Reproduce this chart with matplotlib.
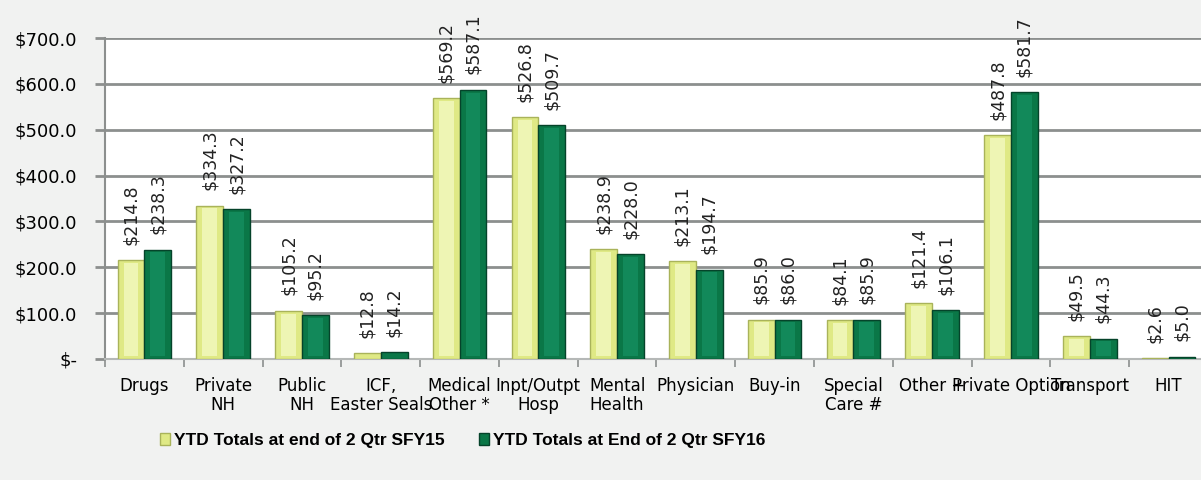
import matplotlib
matplotlib.use("Agg")
import matplotlib.pyplot as plt
import numpy as np
from matplotlib.ticker import FuncFormatter, FixedLocator

categories = ["Drugs", "Private\nNH", "Public\nNH", "ICF,\nEaster Seals", "Medical\nOther *",
              "Inpt/Outpt\nHosp", "Mental\nHealth", "Physician", "Buy-in", "Special\nCare #",
              "Other +", "Private Option", "Transport", "HIT"]
sfy15 = [214.8, 334.3, 105.2, 12.8, 569.2, 526.8, 238.9, 213.1, 85.9, 84.1, 121.4, 487.8, 49.5, 2.6]
sfy16 = [238.3, 327.2, 95.2, 14.2, 587.1, 509.7, 228.0, 194.7, 86.0, 85.9, 106.1, 581.7, 44.3, 5.0]
series_names = ["YTD Totals at end of 2 Qtr SFY15", "YTD Totals at End of 2 Qtr SFY16"]

fig = plt.figure(figsize=(12.01, 4.8), dpi=100, facecolor="#f1f2f1")
ax = fig.add_axes([105/1201, 1 - 359/480, 1103/1201, (359 - 38)/480])
ax.set_facecolor("white")

x = np.arange(len(categories))
w = 0.34
b1 = ax.bar(x - w/2, sfy15, w, color="#dfe985", edgecolor="#a9b35a", linewidth=1.0,
            label=series_names[0], zorder=3)
b2 = ax.bar(x + w/2, sfy16, w, color="#0a7747", edgecolor="#05432a", linewidth=1.0,
            label=series_names[1], zorder=3)

# softer centre strip to hint at the bevelled bars
for bars, col in [(b1, "#eef5b4"), (b2, "#12895a")]:
    for r in bars:
        h = r.get_height()
        if h > 20:
            ax.bar(r.get_x() + r.get_width()/2, h - 12, r.get_width()*0.55, bottom=6,
                   color=col, linewidth=0, zorder=3.5)

for bars, vals in [(b1, sfy15), (b2, sfy16)]:
    for r, v in zip(bars, vals):
        ax.annotate("$%.1f" % v, (r.get_x() + r.get_width()/2, v), xytext=(0, 11),
                    textcoords="offset points", rotation=90, ha="center", va="bottom",
                    fontsize=12.5, color="#222222")

ax.set_xlim(-0.5, len(categories) - 0.5)
ax.set_ylim(0, 700)
ax.set_yticks(np.arange(0, 701, 100))
ax.yaxis.set_major_formatter(FuncFormatter(lambda v, p: "$-" if v == 0 else "${:.1f}".format(v)))
ax.grid(axis="y", color="#8c8f8e", linewidth=2, zorder=0)

ax.set_xticks(x)
ax.set_xticklabels(categories, fontsize=12, linespacing=1.05)
ax.xaxis.set_minor_locator(FixedLocator(np.arange(-0.5, len(categories), 1)))
ax.tick_params(axis="x", which="major", length=0, pad=13)
ax.tick_params(axis="x", which="minor", length=6, color="#8c8f8e", width=1.2)
ax.tick_params(axis="y", length=7, color="#8c8f8e", width=2, labelsize=13, pad=13)

for s in ["top", "right"]:
    ax.spines[s].set_visible(False)
ax.spines["left"].set_color("#8c8f8e")
ax.spines["left"].set_linewidth(1.5)
ax.spines["bottom"].set_color("#b5b8b7")
ax.spines["bottom"].set_linewidth(1.5)

fig.legend(handles=[b1, b2], labels=series_names, loc="center", bbox_to_anchor=(0.385, 0.083),
           ncol=2, frameon=False, handlelength=0.6, handleheight=0.7, handletextpad=0.2,
           columnspacing=2.0, prop={"family": ["Liberation Sans", "DejaVu Sans"],
                                    "weight": "bold", "size": 12.5})

fig.savefig("out.png", dpi=100, facecolor=fig.get_facecolor())
